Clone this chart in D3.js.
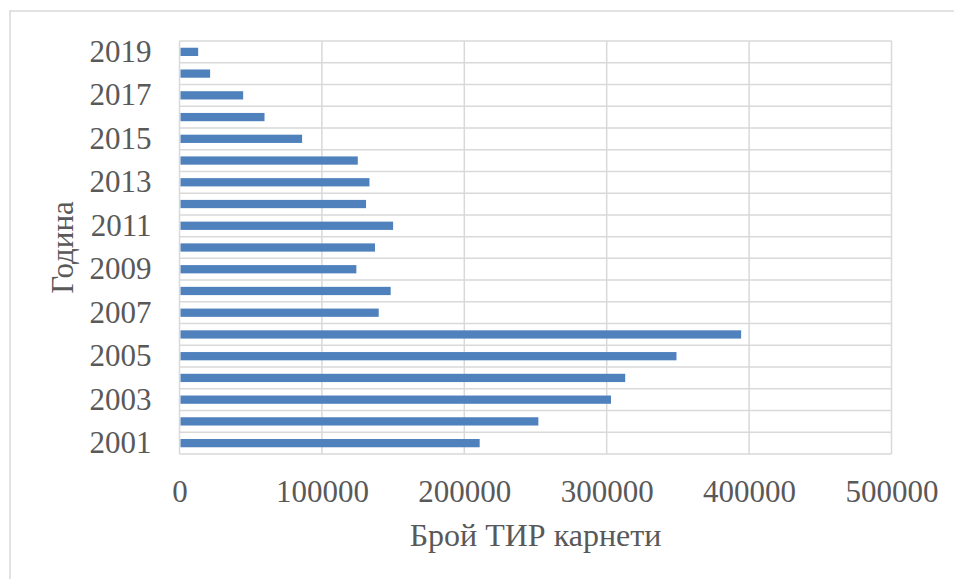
<!DOCTYPE html>
<html>
<head>
<meta charset="utf-8">
<script src="https://cdn.jsdelivr.net/npm/d3@7"></script>
<style>
  body { margin: 0; background: #fff; }
  text { font-family: "Liberation Serif", "Times New Roman", serif; fill: #595959; }
</style>
</head>
<body>
<div id="chart"></div>
<script>
// years, bottom to top
var years = ["2001", "2002", "2003", "2004", "2005", "2006", "2007", "2008", "2009", "2010",
             "2011", "2012", "2013", "2014", "2015", "2016", "2017", "2018", "2019"];
// number of TIR carnets per year
var carnets = [210800, 252000, 303000, 313000, 349000, 394400, 139900, 148300, 124200, 137300,
               150000, 131000, 133400, 125200, 86100, 59700, 44700, 21500, 13100];
var xTicks = [0, 100000, 200000, 300000, 400000, 500000];
var yLabels = ["2001", "2003", "2005", "2007", "2009", "2011", "2013", "2015", "2017", "2019"];

var data = years.map(function (y, i) { return {year: y, value: carnets[i]}; });

var W = 954, H = 579;
var plot = {left: 179.5, right: 891.5, top: 41, bottom: 454};

var svg = d3.select("#chart").append("svg")
    .attr("width", W)
    .attr("height", H);

// chart area border (right and bottom fall outside the window)
svg.append("rect")
    .attr("x", 10).attr("y", 11)
    .attr("width", 960).attr("height", 600)
    .attr("fill", "none")
    .attr("stroke", "#d9d9d9")
    .attr("stroke-width", 1.5);

var x = d3.scaleLinear()
    .domain([0, 500000])
    .range([plot.left, plot.right]);

var y = d3.scaleBand()
    .domain(years.slice().reverse())
    .range([plot.top, plot.bottom])
    .paddingInner(0.62)
    .paddingOuter(0.31);

var yGrid = d3.scaleBand()
    .domain(years.slice().reverse())
    .range([plot.top, plot.bottom]);

// horizontal gridlines between categories
var hLines = years.map(function (d) { return yGrid(d); }).concat([plot.bottom]);
svg.append("g").selectAll("line")
    .data(hLines)
    .enter().append("line")
    .attr("x1", plot.left).attr("x2", plot.right)
    .attr("y1", function (d) { return d; })
    .attr("y2", function (d) { return d; })
    .attr("stroke", "#d9d9d9")
    .attr("stroke-width", 1.5);

// vertical gridlines at x ticks
svg.append("g").selectAll("line")
    .data(xTicks)
    .enter().append("line")
    .attr("x1", function (d) { return x(d); })
    .attr("x2", function (d) { return x(d); })
    .attr("y1", plot.top).attr("y2", plot.bottom)
    .attr("stroke", "#d9d9d9")
    .attr("stroke-width", 1.5);

// bars
svg.append("g").selectAll("rect")
    .data(data)
    .enter().append("rect")
    .attr("x", x(0) + 1)
    .attr("y", function (d) { return y(d.year); })
    .attr("width", function (d) { return x(d.value) - x(0) - 1; })
    .attr("height", y.bandwidth())
    .attr("fill", "#4f81bd");

// x axis
var xAxis = d3.axisBottom(x)
    .tickValues(xTicks)
    .tickSize(0)
    .tickPadding(26)
    .tickFormat(function (d) { return String(d); });

var gx = svg.append("g")
    .attr("transform", "translate(0," + plot.bottom + ")")
    .call(xAxis);
gx.select(".domain").remove();
gx.selectAll("text")
    .style("font-family", "Liberation Serif, serif")
    .style("font-size", "31px")
    .attr("fill", "#595959");

// y axis, every other year labelled
var yAxis = d3.axisLeft(yGrid)
    .tickValues(yLabels)
    .tickSize(0)
    .tickPadding(28);

var gy = svg.append("g")
    .attr("transform", "translate(" + plot.left + ",0)")
    .call(yAxis);
gy.select(".domain").remove();
gy.selectAll("text")
    .style("font-family", "Liberation Serif, serif")
    .style("font-size", "31px")
    .attr("fill", "#595959");

// axis titles
svg.append("text")
    .attr("x", (plot.left + plot.right) / 2)
    .attr("y", 546)
    .attr("text-anchor", "middle")
    .style("font-size", "32px")
    .text("Брой ТИР карнети");

svg.append("text")
    .attr("transform", "translate(73," + (plot.top + plot.bottom) / 2 + ") rotate(-90)")
    .attr("text-anchor", "middle")
    .style("font-size", "31px")
    .text("Година");
</script>
</body>
</html>
